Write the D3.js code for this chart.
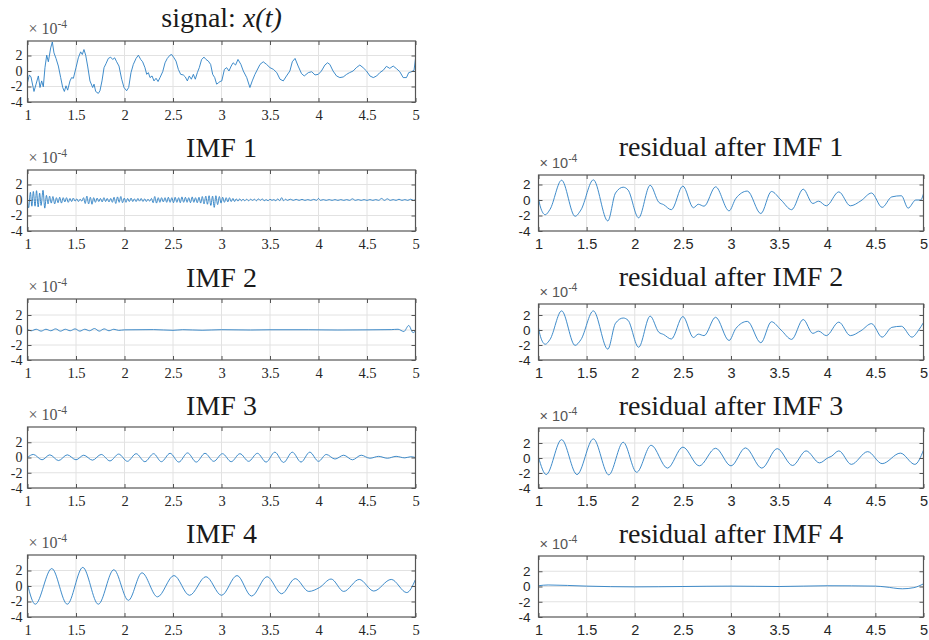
<!DOCTYPE html>
<html>
<head>
<meta charset="utf-8">
<script src="https://cdn.jsdelivr.net/npm/d3@7"></script>
<style>
  body { margin: 0; background: #fff; }
  svg { display: block; }
</style>
</head>
<body>
<svg id="fig" width="929" height="640"></svg>
<script>
// ---- axis ticks ----
const xTicks = [1, 1.5, 2, 2.5, 3, 3.5, 4, 4.5, 5];
const xTickLabels = ["1", "1.5", "2", "2.5", "3", "3.5", "4", "4.5", "5"];
const yTicks = [-4, -2, 0, 2];
const yTickLabels = ["-4", "-2", "0", "2"];

// ---- series: [time (s), amplitude (x1e-4)] ----
const signalX = [
  [1.000,-1.49],[1.019,-0.51],[1.036,-0.77],[1.067,-2.64],[1.088,-1.70],[1.112,-0.64],[1.129,-2.13],
  [1.146,-1.28],[1.163,-2.04],[1.180,0.43],[1.198,2.04],[1.215,1.19],[1.239,2.98],[1.256,3.74],
  [1.273,2.34],[1.294,1.62],[1.318,0.64],[1.342,-0.85],[1.363,-2.13],[1.380,-2.64],[1.397,-1.91],
  [1.414,-2.47],[1.438,-1.28],[1.455,-0.85],[1.473,-0.94],[1.500,0.43],[1.524,1.70],[1.548,2.47],
  [1.565,2.13],[1.582,2.77],[1.600,2.04],[1.620,0.64],[1.644,-1.28],[1.672,-2.13],[1.686,-1.70],
  [1.703,-2.64],[1.730,-2.89],[1.747,-2.55],[1.768,-1.28],[1.789,0.43],[1.809,0.94],[1.833,1.62],
  [1.857,1.79],[1.878,1.49],[1.899,1.70],[1.919,1.19],[1.943,0.64],[1.971,-1.06],[1.995,-2.13],
  [2.022,-2.55],[2.043,-2.13],[2.067,-0.21],[2.091,0.85],[2.119,1.62],[2.143,2.04],[2.167,1.49],
  [2.187,1.19],[2.211,0.43],[2.229,-0.43],[2.246,-0.21],[2.263,-0.85],[2.284,-0.64],[2.304,-1.28],
  [2.325,-0.94],[2.346,-1.36],[2.366,-0.85],[2.394,-0.09],[2.418,1.06],[2.441,1.62],[2.469,2.04],
  [2.486,2.13],[2.510,1.70],[2.531,1.28],[2.555,0.21],[2.579,-0.43],[2.606,-0.51],[2.627,-0.77],
  [2.648,-1.28],[2.668,-0.64],[2.689,-1.06],[2.710,-0.43],[2.730,-1.06],[2.751,-0.21],[2.771,0.43],
  [2.795,1.49],[2.820,1.79],[2.840,1.49],[2.864,1.28],[2.888,0.85],[2.909,-0.43],[2.930,-0.85],
  [2.950,-1.70],[2.971,-1.49],[2.985,-1.36],[3.003,-1.28],[3.030,0.21],[3.053,0.43],[3.077,0.00],
  [3.100,0.64],[3.120,1.06],[3.145,0.77],[3.170,1.49],[3.200,0.85],[3.225,0.00],[3.260,-0.85],
  [3.293,-2.13],[3.317,-1.28],[3.345,-0.43],[3.397,0.85],[3.430,1.19],[3.465,0.85],[3.500,0.43],
  [3.535,0.21],[3.570,-0.21],[3.603,-1.06],[3.637,-1.28],[3.670,-0.64],[3.705,0.00],[3.730,1.19],
  [3.758,1.62],[3.790,0.64],[3.825,-0.34],[3.853,-0.64],[3.895,-0.21],[3.930,-0.09],[3.964,-0.51],
  [3.998,-0.43],[4.030,0.00],[4.066,0.77],[4.093,1.06],[4.117,0.85],[4.150,0.00],[4.186,-0.64],
  [4.220,-0.85],[4.255,-0.77],[4.290,-0.43],[4.320,-0.21],[4.357,0.00],[4.390,0.43],[4.426,0.77],
  [4.460,0.43],[4.495,0.00],[4.530,-0.64],[4.565,-0.85],[4.600,-0.64],[4.632,-0.21],[4.667,0.09],
  [4.700,0.60],[4.735,0.34],[4.770,0.64],[4.804,0.30],[4.838,-0.09],[4.873,-0.85],[4.907,-0.85],
  [4.930,-0.21],[4.960,-0.09],[4.985,0.09],[5.000,1.60]
];

const imf1 = [
  [1.000,0.0],[1.012,-1.0],[1.030,1.0],[1.045,-0.8],[1.060,1.1],[1.078,-0.8],[1.093,1.2],[1.110,-0.9],
  [1.125,0.9],[1.140,-0.7],[1.160,1.25],[1.178,-1.05],[1.195,0.6],[1.212,-0.5],[1.228,0.5],[1.245,-0.4],
  [1.262,0.45],[1.280,-0.5],[1.298,0.3],[1.315,-0.35],[1.332,0.35],[1.350,-0.4],[1.368,0.3],[1.385,-0.25],
  [1.402,0.3],[1.420,-0.3],[1.438,0.2],[1.455,-0.2],[1.472,0.25],[1.490,-0.15],[1.508,0.15],[1.525,-0.2],
  [1.542,0.1],[1.560,-0.15],[1.578,0.3],[1.595,-0.45],[1.612,0.5],[1.630,-0.5],[1.648,0.35],[1.665,-0.55],
  [1.682,0.3],[1.700,-0.3],[1.718,0.25],[1.735,-0.2],[1.752,0.2],[1.770,-0.25],[1.788,0.3],[1.805,-0.2],
  [1.822,0.2],[1.840,-0.25],[1.858,0.2],[1.875,-0.3],[1.892,0.35],[1.910,-0.45],[1.928,0.4],[1.945,-0.3],
  [1.962,0.45],[1.980,-0.35],[1.998,0.25],[2.015,-0.3],[2.032,0.2],[2.050,-0.2],[2.068,0.25],[2.085,-0.2],
  [2.102,0.15],[2.120,-0.2],[2.138,0.2],[2.155,-0.15],[2.172,0.2],[2.190,-0.2],[2.208,0.15],[2.225,-0.2],
  [2.242,0.1],[2.260,-0.15],[2.278,0.2],[2.295,-0.35],[2.312,0.45],[2.330,-0.4],[2.348,0.3],[2.365,-0.3],
  [2.382,0.3],[2.400,-0.25],[2.418,0.3],[2.435,-0.3],[2.452,0.35],[2.470,-0.3],[2.488,0.3],[2.505,-0.35],
  [2.522,0.35],[2.540,-0.3],[2.558,0.3],[2.575,-0.35],[2.592,0.4],[2.610,-0.3],[2.628,0.35],[2.645,-0.3],
  [2.662,0.3],[2.680,-0.35],[2.698,0.4],[2.715,-0.3],[2.732,0.3],[2.750,-0.35],[2.768,0.35],[2.785,-0.4],
  [2.802,0.45],[2.820,-0.5],[2.838,0.5],[2.855,-0.55],[2.872,0.55],[2.890,-0.7],[2.908,0.5],[2.925,-0.95],
  [2.942,0.55],[2.960,-0.6],[2.978,0.45],[2.995,-0.4],[3.012,0.35],[3.030,-0.3],[3.048,0.3],[3.065,-0.25],
  [3.082,0.3],[3.100,-0.2],[3.118,0.2],[3.135,-0.2],[3.152,0.15],[3.170,-0.15],[3.188,0.15],[3.205,-0.1],
  [3.222,0.1],[3.240,-0.1],[3.260,0.1],[3.280,-0.1],[3.300,0.1],[3.320,-0.05],[3.340,0.1],[3.360,-0.1],
  [3.380,0.15],[3.400,-0.05],[3.420,0.15],[3.440,-0.1],[3.460,0.05],[3.480,-0.1],[3.500,0.1],[3.520,-0.05],
  [3.540,0.05],[3.560,-0.1],[3.580,0.15],[3.600,-0.1],[3.620,0.3],[3.640,-0.1],[3.660,0.1],[3.680,-0.05],
  [3.710,0.1],[3.740,-0.05],[3.770,0.08],[3.800,-0.05],[3.830,0.08],[3.860,-0.05],[3.890,0.05],[3.920,-0.05],
  [3.950,0.08],[3.980,-0.05],[4.000,0.2],[4.020,-0.05],[4.050,0.05],[4.080,-0.05],[4.110,0.05],[4.140,-0.05],
  [4.170,0.05],[4.200,-0.05],[4.230,0.05],[4.260,-0.05],[4.290,0.05],[4.320,-0.05],[4.350,0.15],[4.380,-0.05],
  [4.410,0.05],[4.440,-0.05],[4.470,0.05],[4.500,-0.05],[4.530,0.05],[4.560,-0.05],[4.590,0.05],[4.620,-0.05],
  [4.650,0.2],[4.680,-0.05],[4.710,0.15],[4.740,-0.05],[4.770,0.05],[4.800,-0.05],[4.830,0.1],[4.860,-0.05],
  [4.890,0.05],[4.920,-0.05],[4.950,0.1],[4.980,-0.05],[5.000,0.1]
];

const imf2 = [
  [1.00,0.10],[1.04,-0.10],[1.09,0.10],[1.14,-0.15],[1.19,0.10],[1.24,-0.10],[1.29,0.15],[1.34,-0.15],
  [1.39,0.10],[1.44,-0.10],[1.49,0.15],[1.54,-0.15],[1.59,0.10],[1.64,-0.10],[1.69,0.20],[1.74,-0.15],
  [1.79,0.15],[1.84,-0.10],[1.89,0.10],[1.94,-0.05],[2.00,0.02],[2.30,0.05],[2.50,-0.04],[2.60,0.04],
  [2.80,-0.03],[3.00,0.04],[3.30,0.00],[3.50,0.03],[3.90,0.03],[4.20,0.00],[4.50,0.02],[4.75,0.05],
  [4.82,0.10],[4.88,-0.20],[4.93,0.60],[4.975,-0.35],[5.00,-0.10]
];

const imf3 = [
  [1.00,0.00],[1.06,0.40],[1.15,-0.30],[1.23,0.35],[1.32,-0.40],[1.41,0.35],[1.50,-0.30],[1.58,0.30],
  [1.67,-0.35],[1.76,0.40],[1.85,-0.45],[1.94,0.45],[2.03,-0.50],[2.12,0.50],[2.21,-0.55],[2.30,0.50],
  [2.38,-0.55],[2.47,0.55],[2.56,-0.60],[2.65,0.60],[2.74,-0.60],[2.83,0.55],[2.92,-0.50],[3.01,0.50],
  [3.10,-0.55],[3.19,0.50],[3.28,-0.50],[3.37,0.55],[3.46,-0.60],[3.55,0.70],[3.64,-0.65],[3.73,0.70],
  [3.82,-0.60],[3.91,0.70],[4.00,-0.50],[4.08,0.40],[4.17,-0.20],[4.26,0.30],[4.35,-0.30],[4.44,0.30],
  [4.53,-0.10],[4.62,0.15],[4.71,-0.10],[4.80,0.15],[4.89,-0.05],[4.95,0.10],[5.00,0.00]
];

const imf4 = [
  [1.00,0.20],[1.08,-2.35],[1.25,2.25],[1.41,-2.35],[1.57,2.40],[1.73,-2.35],[1.89,2.10],[2.04,-1.85],
  [2.18,1.70],[2.34,-1.40],[2.51,1.35],[2.67,-1.20],[2.84,1.20],[3.00,-1.20],[3.16,1.35],[3.31,-1.30],
  [3.47,1.20],[3.62,-1.00],[3.76,0.95],[3.90,-0.70],[4.01,-0.20],[4.13,0.90],[4.26,-0.70],[4.42,0.85],
  [4.57,-0.65],[4.75,0.85],[4.91,-0.85],[5.00,0.85]
];

const residual1 = [
  [1.00,0.20],[1.02,-0.90],[1.07,-1.90],[1.12,-1.20],[1.24,2.55],[1.38,-2.10],[1.44,-1.30],[1.57,2.60],
  [1.72,-2.70],[1.80,0.90],[1.88,1.65],[1.93,1.30],[2.04,-2.30],[2.16,1.90],[2.25,-0.30],[2.30,-0.60],
  [2.38,-1.25],[2.50,1.80],[2.61,-1.00],[2.66,-0.55],[2.72,-0.80],[2.84,1.70],[2.98,-1.40],[3.05,0.20],
  [3.17,1.15],[3.31,-1.75],[3.42,1.10],[3.52,0.00],[3.63,-1.25],[3.75,1.40],[3.85,-0.45],[3.91,-0.15],
  [3.99,-0.75],[4.12,1.05],[4.24,-0.75],[4.35,-0.10],[4.46,0.90],[4.57,-0.95],[4.67,0.40],[4.77,0.55],
  [4.84,-1.05],[4.92,0.00],[4.97,0.00],[5.00,0.80]
];

const residual2 = [
  [1.00,0.30],[1.02,-0.85],[1.07,-1.90],[1.12,-1.25],[1.24,2.55],[1.38,-2.05],[1.44,-1.30],[1.57,2.55],
  [1.72,-2.55],[1.80,0.90],[1.88,1.60],[1.93,1.30],[2.04,-2.30],[2.16,1.85],[2.25,-0.30],[2.30,-0.60],
  [2.38,-1.20],[2.50,1.80],[2.61,-1.00],[2.66,-0.55],[2.72,-0.75],[2.84,1.70],[2.98,-1.40],[3.05,0.20],
  [3.17,1.15],[3.31,-1.70],[3.42,1.10],[3.52,0.00],[3.63,-1.25],[3.75,1.40],[3.85,-0.45],[3.91,-0.15],
  [3.99,-0.75],[4.12,1.05],[4.24,-0.75],[4.35,-0.10],[4.46,0.85],[4.57,-0.95],[4.67,0.35],[4.77,0.50],
  [4.88,-0.95],[4.95,0.00],[5.00,1.00]
];

const residual3 = [
  [1.00,0.10],[1.08,-2.20],[1.24,2.45],[1.40,-2.20],[1.57,2.55],[1.73,-2.25],[1.88,2.10],[2.02,-1.90],
  [2.17,1.70],[2.34,-1.35],[2.50,1.45],[2.67,-1.05],[2.84,1.30],[3.00,-1.05],[3.15,1.35],[3.32,-1.35],
  [3.48,1.25],[3.64,-1.00],[3.78,0.95],[3.92,-0.65],[4.01,0.05],[4.04,0.20],[4.12,0.95],[4.25,-0.85],
  [4.42,0.85],[4.57,-0.75],[4.76,0.65],[4.91,-0.85],[5.00,1.05]
];

const residual4 = [
  [1.00,0.10],[1.10,0.20],[1.50,0.05],[2.00,-0.05],[2.50,0.00],[3.00,0.05],[3.50,0.00],[4.00,0.10],
  [4.50,0.05],[4.60,-0.05],[4.78,-0.30],[4.90,-0.15],[5.00,0.35]
];

// ---- figure geometry ----
const SERIF = "'Liberation Serif', 'Times New Roman', serif";
const SANS = "'Liberation Sans', Arial, sans-serif";

const columns = [
  { x0: 27.5, x1: 415.5, font: SERIF, xTickSize: 14.5, yTickSize: 14, expSize: 16, yLabGap: 5 },
  { x0: 538.5, x1: 923.5, font: SANS, xTickSize: 14.5, yTickSize: 13.5, expSize: 14.5, yLabGap: 8 }
];
// per panel: top edge, zero line, bottom edge (y = -4), title baseline
const panels = [
  { title: "signal", col: 0, top: 41, zero: 71, bottom: 102, titleY: 27, data: signalX, curve: d3.curveLinear },
  { title: "IMF 1", col: 0, top: 170, zero: 200, bottom: 231, titleY: 157, data: imf1, curve: d3.curveMonotoneX },
  { title: "IMF 2", col: 0, top: 299, zero: 330, bottom: 360, titleY: 287, data: imf2, curve: d3.curveMonotoneX },
  { title: "IMF 3", col: 0, top: 427, zero: 457.5, bottom: 488, titleY: 415, data: imf3, curve: d3.curveMonotoneX },
  { title: "IMF 4", col: 0, top: 555, zero: 586, bottom: 617, titleY: 543, data: imf4, curve: d3.curveMonotoneX },
  { title: "residual after IMF 1", col: 1, top: 175, zero: 200, bottom: 231, titleY: 156, data: residual1, curve: d3.curveMonotoneX },
  { title: "residual after IMF 2", col: 1, top: 304, zero: 330, bottom: 360, titleY: 286, data: residual2, curve: d3.curveMonotoneX },
  { title: "residual after IMF 3", col: 1, top: 428, zero: 458, bottom: 488, titleY: 415, data: residual3, curve: d3.curveMonotoneX },
  { title: "residual after IMF 4", col: 1, top: 556, zero: 586.5, bottom: 617, titleY: 543, data: residual4, curve: d3.curveMonotoneX }
];

const svg = d3.select("#fig");
const LINE = "#2a7fc4", AXIS = "#555555", GRID = "#e2e2e2", TEXT = "#262626";

panels.forEach((p, idx) => {
  const c = columns[p.col];
  const x = d3.scaleLinear().domain([1, 5]).range([c.x0, c.x1]);
  const y = d3.scaleLinear().domain([-4, 0]).range([p.bottom, p.zero]);
  const g = svg.append("g");

  // grid
  g.selectAll(".gx").data(xTicks.slice(1, -1)).join("line")
    .attr("x1", d => x(d)).attr("x2", d => x(d))
    .attr("y1", p.top).attr("y2", p.bottom)
    .attr("stroke", GRID).attr("stroke-width", 1);
  g.selectAll(".gy").data(yTicks.slice(1)).join("line")
    .attr("x1", c.x0).attr("x2", c.x1)
    .attr("y1", d => y(d)).attr("y2", d => y(d))
    .attr("stroke", GRID).attr("stroke-width", 1);

  // data line
  const clipId = "clip" + idx;
  g.append("clipPath").attr("id", clipId).append("rect")
    .attr("x", c.x0).attr("y", p.top).attr("width", c.x1 - c.x0).attr("height", p.bottom - p.top);
  g.append("path")
    .datum(p.data)
    .attr("clip-path", `url(#${clipId})`)
    .attr("fill", "none")
    .attr("stroke", LINE)
    .attr("stroke-width", 0.9)
    .attr("stroke-linejoin", "round")
    .attr("d", d3.line().x(d => x(d[0])).y(d => y(d[1])).curve(p.curve));

  // axes: inward ticks on all four sides, labels on bottom and left
  const bottomAxis = d3.axisBottom(x).tickValues(xTicks).tickSizeInner(-4).tickSizeOuter(0)
    .tickFormat((d, i) => xTickLabels[i]).tickPadding(7.5);
  const topAxis = d3.axisTop(x).tickValues(xTicks).tickSizeInner(-4).tickSizeOuter(0).tickFormat("");
  const leftAxis = d3.axisLeft(y).tickValues(yTicks).tickSizeInner(-4).tickSizeOuter(0)
    .tickFormat((d, i) => yTickLabels[i]).tickPadding(c.yLabGap);
  const rightAxis = d3.axisRight(y).tickValues(yTicks).tickSizeInner(-4).tickSizeOuter(0).tickFormat("");

  const axB = g.append("g").attr("transform", `translate(0,${p.bottom})`).call(bottomAxis);
  const axT = g.append("g").attr("transform", `translate(0,${p.top})`).call(topAxis);
  const axL = g.append("g").attr("transform", `translate(${c.x0},0)`).call(leftAxis);
  const axR = g.append("g").attr("transform", `translate(${c.x1},0)`).call(rightAxis);
  [axB, axT, axL, axR].forEach(a => {
    a.select(".domain").remove();
    a.selectAll(".tick line").attr("stroke", AXIS).attr("stroke-width", 1);
    a.selectAll(".tick text").attr("fill", TEXT).style("font-family", c.font);
  });
  axB.selectAll(".tick text").style("font-size", c.xTickSize + "px");
  axL.selectAll(".tick text").style("font-size", c.yTickSize + "px");

  // box
  g.append("rect")
    .attr("x", c.x0).attr("y", p.top)
    .attr("width", c.x1 - c.x0).attr("height", p.bottom - p.top)
    .attr("fill", "none").attr("stroke", AXIS).attr("stroke-width", 1.2);

  // exponent label
  const ex = g.append("text")
    .attr("x", c.x0 + 1).attr("y", p.top - 7)
    .attr("fill", "#555").style("font-family", c.font).style("font-size", c.expSize + "px");
  ex.append("tspan").text("\u00d7 10");
  ex.append("tspan").attr("dy", -6).style("font-size", (c.expSize * 0.72) + "px").text("-4");

  // title
  const t = g.append("text")
    .attr("x", (c.x0 + c.x1) / 2).attr("y", p.titleY)
    .attr("text-anchor", "middle").attr("fill", "#1a1a1a")
    .style("font-family", SERIF).style("font-size", "28px");
  if (p.title === "signal") {
    t.append("tspan").text("signal: ");
    t.append("tspan").style("font-style", "italic").text("x(t)");
  } else {
    t.text(p.title);
  }
});
</script>
</body>
</html>
